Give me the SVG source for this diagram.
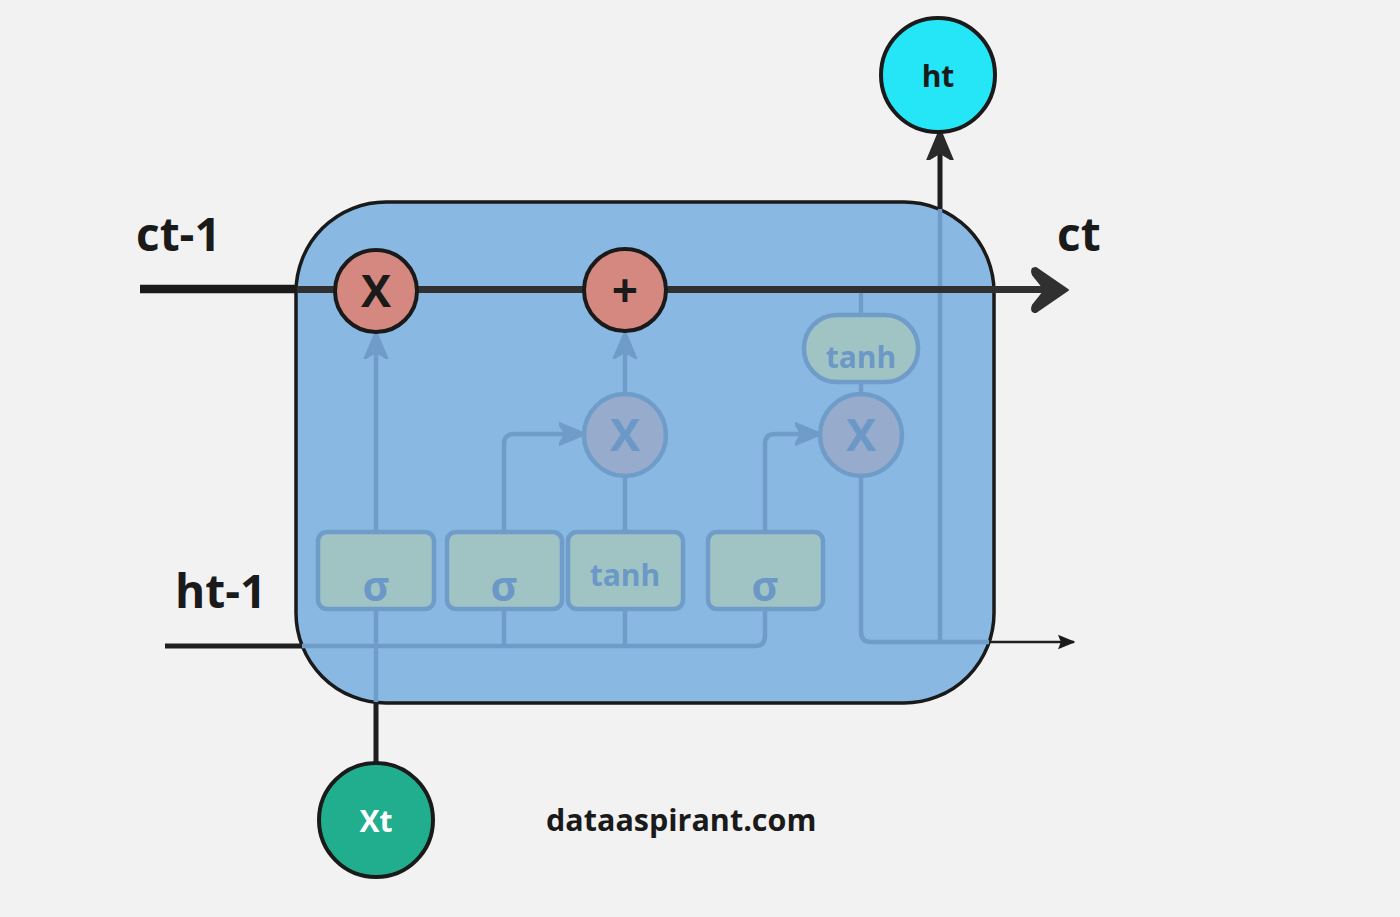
<svg xmlns="http://www.w3.org/2000/svg" width="1400" height="917" viewBox="0 0 1400 917">
<style>
.lbl{font-family:"Open Sans","Liberation Sans",sans-serif;font-weight:700;fill:#1a1a1a}
.fl{fill:none;stroke:#6f9cc8;stroke-width:4.5;stroke-linejoin:round}
.dk{fill:none;stroke:#1f1f1f;stroke-linecap:butt}
.box{fill:#a0c4c4;stroke:#6f9cc8;stroke-width:4.5}
.ftx{font-family:"Open Sans","Liberation Sans",sans-serif;font-weight:700;fill:#6b98c6;text-anchor:middle}
.gate{fill:#d4887f;stroke:#1a1a1a;stroke-width:4}
.fgate{fill:#97abcc;stroke:#6f9cc8;stroke-width:4.5}
</style>
<defs>
<marker id="fa" viewBox="0 0 12 12" refX="10" refY="6" markerWidth="6" markerHeight="6" orient="auto" markerUnits="strokeWidth">
<path d="M0,1 L12,6 L0,11 L3,6 Z" fill="#6f9cc8" stroke="#6f9cc8" stroke-width="1" stroke-linejoin="round"/>
</marker>
<marker id="da" viewBox="0 0 12 12" refX="10" refY="6" markerWidth="6" markerHeight="6" orient="auto" markerUnits="strokeWidth">
<path d="M0,1 L12,6 L0,11 L3,6 Z" fill="#2a2a2a" stroke="#2a2a2a" stroke-width="1" stroke-linejoin="round"/>
</marker>
<marker id="ta" viewBox="0 0 12 12" refX="11" refY="6" markerWidth="7" markerHeight="7" orient="auto" markerUnits="strokeWidth">
<path d="M0,1 L12,6 L0,11 L2,6 Z" fill="#1a1a1a"/>
</marker>
</defs>
<rect width="1400" height="917" fill="#f2f2f2"/>
<g id="cell">
<rect x="296" y="202" width="698" height="501" rx="90" ry="90" fill="#89b9e3" stroke="#1a1a1a" stroke-width="3.5"/>
</g>
<g id="connectors">
<path class="fl" d="M376 532 V336" marker-end="url(#fa)"/>
<path class="fl" d="M625 392 V336" marker-end="url(#fa)"/>
<path class="fl" d="M504 532 V444 Q504 434 514 434 H581" marker-end="url(#fa)"/>
<path class="fl" d="M765 532 V444 Q765 434 775 434 H817" marker-end="url(#fa)"/>
<path class="fl" d="M625 532 V476"/>
<path class="fl" d="M861 289 V315"/>
<path class="fl" d="M861 382 V394"/>
<path class="fl" d="M861 476 V632 Q861 642 871 642 H989"/>
<path class="fl" d="M940 642 V209"/>
<path class="fl" d="M302 646 H755 Q765 646 765 636 V609"/>
<path class="fl" d="M376 609 V702"/>
<path class="fl" d="M504 609 V646"/>
<path class="fl" d="M625 609 V646"/>
<path class="dk" d="M165 646 H302" stroke-width="5"/>
<path class="dk" d="M376 702 V763" stroke-width="5"/>
<path class="dk" d="M989 642 H1074" stroke-width="2.5" marker-end="url(#ta)"/>
<path class="dk" d="M940 209 V135" stroke-width="5" marker-end="url(#da)"/>
<path d="M140 289 H297" stroke="#1a1a1a" stroke-width="8.5" fill="none"/>
<path d="M297 289.5 H1045" stroke="#303030" stroke-width="7" fill="none"/>
<path d="M1068 290 L1036 268 Q1030 268 1033 275 L1045 290 L1033 305 Q1030 312 1036 312 Z" fill="#303030" stroke="#303030" stroke-width="2" stroke-linejoin="round"/>
</g>
<g id="forget-gate">
<rect class="box" x="318" y="532" width="116" height="77" rx="9"/>
<text class="ftx" x="376" y="601" font-size="41">σ</text>
</g>
<g id="input-gate">
<rect class="box" x="447" y="532" width="115" height="77" rx="9"/>
<text class="ftx" x="504" y="601" font-size="41">σ</text>
</g>
<g id="candidate-tanh">
<rect class="box" x="568" y="532" width="115" height="77" rx="9"/>
<text class="ftx" x="625" y="586" font-size="30">tanh</text>
</g>
<g id="output-gate">
<rect class="box" x="708" y="532" width="115" height="77" rx="9"/>
<text class="ftx" x="765" y="601" font-size="41">σ</text>
</g>
<g id="input-multiply">
<circle class="fgate" cx="625" cy="435" r="41"/>
<text class="ftx" x="625" y="451" font-size="45">X</text>
</g>
<g id="output-multiply">
<circle class="fgate" cx="861" cy="435" r="41"/>
<text class="ftx" x="861" y="451" font-size="45">X</text>
</g>
<g id="cell-tanh">
<rect class="box" x="804" y="315" width="114" height="67" rx="33"/>
<text class="ftx" x="861" y="368" font-size="30">tanh</text>
</g>
<g id="forget-multiply">
<circle class="gate" cx="376" cy="291" r="41"/>
<text class="lbl" x="376" y="307" font-size="45" text-anchor="middle">X</text>
</g>
<g id="add">
<circle class="gate" cx="625" cy="290" r="41"/>
<text class="lbl" x="625" y="307" font-size="46" text-anchor="middle">+</text>
</g>
<g id="ht-node">
<circle cx="938" cy="75" r="57" fill="#25e6f6" stroke="#1a1a1a" stroke-width="4"/>
<text class="lbl" x="938" y="87" font-size="30" text-anchor="middle">ht</text>
</g>
<g id="xt-node">
<circle cx="376" cy="820" r="57" fill="#21ae8e" stroke="#1a1a1a" stroke-width="4"/>
<text x="376" y="832" font-size="30" text-anchor="middle" font-family="Open Sans, Liberation Sans, sans-serif" font-weight="700" fill="#ffffff">Xt</text>
</g>
<g id="labels">
<text class="lbl" x="136" y="251" font-size="46">ct-1</text>
<text class="lbl" x="175" y="608" font-size="46">ht-1</text>
<text class="lbl" x="1057" y="251" font-size="46">ct</text>
<text class="lbl" x="546" y="831" font-size="30.5">dataaspirant.com</text>
</g>
</svg>
